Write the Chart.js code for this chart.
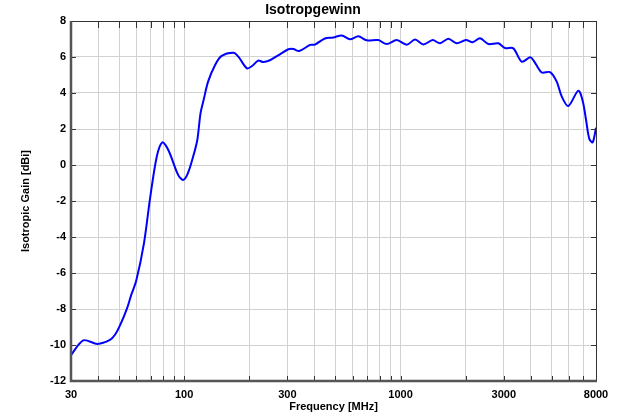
<!DOCTYPE html>
<html>
<head>
<meta charset="utf-8">
<script src="https://cdn.jsdelivr.net/npm/chart.js@4/dist/chart.umd.min.js"></script>
<style>
  body { margin: 0; background: #fff; }
  #wrap { width: 640px; height: 420px; }
</style>
</head>
<body>
<div id="wrap"><canvas id="gain" width="640" height="420"></canvas></div>
<script>
var freqMHz = [30, 34.2, 39.8, 45.4, 48, 50.9, 54.5, 57, 60, 65.2, 69.5, 74.7, 79.3, 84.5, 93.9, 99,
  104, 110, 115, 119, 123, 129, 139, 149, 169, 178, 195, 206, 220, 232, 249, 277, 303, 320, 340,
  382, 402, 447, 489, 535, 584, 638, 697, 789, 863, 960, 1068, 1167, 1275, 1408, 1521, 1663, 1817,
  2006, 2154, 2329, 2545, 2830, 3039, 3320, 3630, 3965, 4106, 4489, 4905, 5267, 5553, 5959, 6630,
  6946, 7197, 7453, 7725, 8000];
var gainDbi = [-10.56, -9.74, -9.94, -9.72, -9.42, -8.83, -7.95, -7.2, -6.45, -4.35, -1.9, 0.46, 1.26, 0.83, -0.56, -0.83,
  -0.46, 0.46, 1.39, 2.87, 3.61, 4.63, 5.56, 6.06, 6.24, 6.02, 5.37, 5.5, 5.8, 5.72, 5.82, 6.15, 6.43, 6.44, 6.33,
  6.67, 6.69, 7.03, 7.08, 7.2, 6.98, 7.15, 6.93, 6.94, 6.72, 6.94, 6.68, 6.97, 6.7, 6.94, 6.76, 7.02, 6.76,
  6.94, 6.82, 7.04, 6.72, 6.76, 6.5, 6.48, 5.74, 5.98, 5.83, 5.14, 5.16, 4.63, 3.81, 3.28, 4.13,
  3.55, 2.5, 1.45, 1.26, 2.07];

var xGridValues = [30, 40, 50, 60, 70, 80, 90, 100, 200, 300, 400, 500, 600, 700, 800, 900,
  1000, 2000, 3000, 4000, 5000, 6000, 7000, 8000];
var xTickLabels = [30, 100, 300, 1000, 3000, 8000];
var yTicks = [-12, -10, -8, -6, -4, -2, 0, 2, 4, 6, 8];

var fontFam = '"Liberation Sans", Arial, sans-serif';

// box around the plot with small inward ticks
var framePlugin = {
  id: 'frame',
  afterDraw: function (chart) {
    var ctx = chart.ctx;
    var a = chart.chartArea;
    var xs = chart.scales.x, ys = chart.scales.y;
    ctx.save();
    ctx.strokeStyle = '#333';
    ctx.lineWidth = 1;
    ctx.beginPath();
    ctx.moveTo(a.left, a.top + 0.5);
    ctx.lineTo(a.right + 0.5, a.top + 0.5);
    ctx.lineTo(a.right + 0.5, a.bottom);
    ctx.stroke();
    ctx.beginPath();
    xGridValues.forEach(function (v) {
      var px = Math.round(xs.getPixelForValue(v)) + 0.5;
      ctx.moveTo(px, a.top);
      ctx.lineTo(px, a.top + 7);
      ctx.moveTo(px, a.bottom);
      ctx.lineTo(px, a.bottom - 5);
    });
    yTicks.forEach(function (v) {
      var py = Math.round(ys.getPixelForValue(v)) + 0.5;
      ctx.moveTo(a.right, py);
      ctx.lineTo(a.right - 5, py);
      ctx.moveTo(a.left, py);
      ctx.lineTo(a.left + 5, py);
    });
    ctx.stroke();
    ctx.strokeStyle = '#555';
    ctx.lineWidth = 2.5;
    ctx.beginPath();
    ctx.moveTo(a.left, a.top);
    ctx.lineTo(a.left, a.bottom);
    ctx.lineTo(a.right + 1, a.bottom);
    ctx.stroke();
    ctx.restore();
  }
};

var points = freqMHz.map(function (f, i) { return { x: f, y: gainDbi[i] }; });

new Chart(document.getElementById('gain'), {
  type: 'line',
  data: {
    datasets: [{
      data: points,
      borderColor: '#0000ff',
      borderWidth: 2,
      pointRadius: 0,
      tension: 0.3,
      fill: false
    }]
  },
  options: {
    responsive: false,
    devicePixelRatio: 1,
    animation: false,
    layout: { padding: { left: 0, right: 14, top: 0, bottom: 0 } },
    plugins: {
      legend: { display: false },
      tooltip: { enabled: false },
      title: {
        display: true,
        text: 'Isotropgewinn',
        color: '#000',
        font: { family: fontFam, size: 14, weight: 'bold' },
        padding: { top: 1.5, bottom: 2.7 }
      }
    },
    scales: {
      x: {
        type: 'logarithmic',
        min: 30,
        max: 8000,
        afterBuildTicks: function (s) {
          s.ticks = xGridValues.map(function (v) { return { value: v }; });
        },
        afterFit: function (s) { s.height = 39; },
        ticks: {
          autoSkip: false,
          maxRotation: 0,
          padding: 7,
          color: '#000',
          font: { family: fontFam, size: 11, weight: 'bold' },
          callback: function (v) { return xTickLabels.indexOf(v) >= 0 ? String(v) : ''; }
        },
        grid: { color: '#d2d2d2', drawTicks: false },
        border: { display: false },
        title: {
          display: true,
          text: 'Frequency [MHz]',
          color: '#000',
          font: { family: fontFam, size: 11, weight: 'bold' },
          padding: { top: 0, bottom: 6 }
        }
      },
      y: {
        min: -12,
        max: 8,
        afterBuildTicks: function (s) {
          s.ticks = yTicks.map(function (v) { return { value: v }; });
        },
        afterFit: function (s) { s.width = 71; },
        ticks: {
          padding: 5,
          color: '#000',
          font: { family: fontFam, size: 11, weight: 'bold' }
        },
        grid: { color: '#d2d2d2', drawTicks: false },
        border: { display: false },
        title: {
          display: true,
          text: 'Isotropic Gain [dBi]',
          color: '#000',
          font: { family: fontFam, size: 11, weight: 'bold' },
          padding: { top: 19, bottom: 0 }
        }
      },
      // empty right-hand strip, only reserves space
      yRight: {
        position: 'right',
        min: -12,
        max: 8,
        afterFit: function (s) { s.width = 30; },
        ticks: { display: false },
        grid: { display: false, drawTicks: false },
        border: { display: false }
      }
    }
  },
  plugins: [framePlugin]
});
</script>
</body>
</html>
